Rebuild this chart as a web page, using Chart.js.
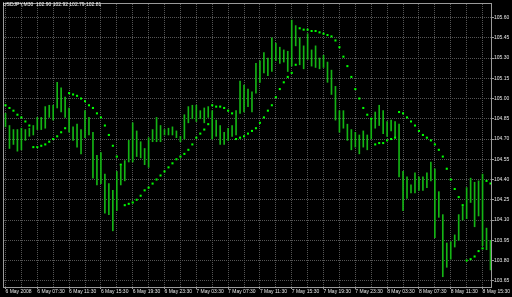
<!DOCTYPE html>
<html><head><meta charset="utf-8">
<script src="https://cdn.jsdelivr.net/npm/chart.js@4/dist/chart.umd.min.js"></script>
<style>html,body{margin:0;padding:0;background:#000;overflow:hidden}canvas{display:block}</style>
</head><body>
<canvas id="c" width="512" height="297"></canvas>
<script>
const titleText = 'USDJPY,M30  102.90 102.92 102.79 102.81';
const xLabels = ['6 May 2008','6 May 07:30','6 May 11:30','6 May 15:30','6 May 19:30','6 May 23:30',
  '7 May 03:30','7 May 07:30','7 May 11:30','7 May 15:30','7 May 19:30','7 May 23:30',
  '8 May 03:30','8 May 07:30','8 May 11:30','8 May 15:30'];
const yTicks = [103.65,103.80,103.95,104.10,104.25,104.40,104.55,104.70,104.85,105.00,105.15,105.30,105.45,105.60];

const highs = [104.89,104.80,104.77,104.77,104.78,104.77,104.78,104.80,104.86,104.86,
104.94,104.95,104.95,105.12,105.08,105.01,104.93,104.79,104.81,104.77,
104.91,104.86,104.75,104.58,104.60,104.44,104.37,104.32,104.46,104.50,
104.54,104.69,104.82,104.76,104.68,104.63,104.71,104.77,104.86,104.80,
104.77,104.78,104.79,104.76,104.72,104.88,104.94,104.95,104.95,104.91,
104.93,104.94,104.91,104.84,104.80,104.75,104.78,104.80,104.91,105.13,
105.10,105.07,105.05,105.26,105.28,105.34,105.30,105.45,105.41,105.38,
105.36,105.35,105.58,105.54,105.45,105.39,105.48,105.36,105.39,105.30,
105.32,105.27,105.21,105.09,104.91,104.91,104.81,104.77,104.75,104.73,
104.76,104.73,104.84,104.90,104.95,104.91,104.83,104.84,104.83,104.81,
104.46,104.42,104.36,104.45,104.42,104.42,104.45,104.53,104.48,104.31,
104.14,103.93,103.94,103.99,104.14,104.20,104.34,104.41,104.38,104.39,
104.44,104.04,103.95];

const lows = [104.79,104.63,104.66,104.61,104.62,104.69,104.72,104.73,104.77,104.77,
104.78,104.86,104.84,104.93,104.90,104.86,104.75,104.69,104.64,104.59,
104.71,104.73,104.41,104.36,104.37,104.15,104.14,104.02,104.17,104.36,
104.39,104.53,104.53,104.57,104.56,104.51,104.49,104.68,104.68,104.68,
104.73,104.73,104.73,104.71,104.68,104.70,104.82,104.85,104.83,104.85,
104.82,104.86,104.70,104.72,104.66,104.66,104.69,104.72,104.73,104.89,
104.90,104.94,104.90,105.04,105.12,105.19,105.17,105.20,105.28,105.26,
105.27,105.20,105.24,105.39,105.25,105.22,105.29,105.24,105.23,105.22,
105.23,105.12,105.03,104.84,104.75,104.78,104.69,104.62,104.64,104.59,
104.64,104.62,104.70,104.78,104.80,104.74,104.72,104.76,104.71,104.42,
104.17,104.26,104.30,104.30,104.32,104.32,104.34,104.39,103.97,104.12,
103.68,103.75,103.81,103.90,103.95,104.10,104.11,104.23,104.05,104.13,
103.91,103.88,103.73];

const sar = [104.95,104.93,104.91,104.88,104.86,104.83,104.80,104.64,104.64,104.65,
104.66,104.68,104.70,104.72,104.75,104.78,105.04,105.03,105.02,105.00,
104.98,104.95,104.93,104.89,104.86,104.80,104.73,104.65,104.57,104.51,
104.21,104.22,104.23,104.25,104.28,104.32,104.34,104.37,104.40,104.43,
104.46,104.49,104.52,104.55,104.57,104.59,104.62,104.66,104.71,104.74,
104.77,104.81,104.95,104.94,104.94,104.93,104.91,104.89,104.70,104.71,
104.72,104.74,104.76,104.78,104.82,104.86,104.91,104.95,105.01,105.07,
105.12,105.16,105.19,105.25,105.52,105.51,105.51,105.50,105.50,105.49,
105.48,105.47,105.46,105.43,105.38,105.31,105.24,105.16,105.07,105.00,
104.93,104.88,104.85,104.66,104.67,104.67,104.69,104.70,104.71,104.90,
104.89,104.86,104.83,104.80,104.76,104.73,104.71,104.69,104.66,104.62,
104.57,104.48,104.40,104.33,104.27,104.21,103.80,103.81,103.83,103.87,
103.89,104.39,104.37];

const barData = highs.map((h, i) => ({x: i, y: [lows[i], h]}));
const sarData = sar.map((v, i) => ({x: i, y: v}));

const FONT = {family: 'Liberation Sans', size: 5};
const TXT = '#e6e6e6';
const GRID = '#555555';

const framePlugin = {
  id: 'frame',
  beforeDatasetsDraw(chart) {
    const {ctx, chartArea: a} = chart;
    ctx.save();
    ctx.setLineDash([]);
    ctx.strokeStyle = '#9a9a9a';
    ctx.lineWidth = 1;
    ctx.strokeRect(a.left - 0.5, a.top - 0.5, a.right - a.left + 1, a.bottom - a.top + 1);
    ctx.restore();
  },
  afterDraw(chart) {
    const {ctx} = chart;
    ctx.save();
    ctx.font = '5px "Liberation Sans"';
    ctx.fillStyle = '#ffffff';
    ctx.textBaseline = 'middle';
    ctx.textAlign = 'left';
    ctx.fillText(titleText, 3, 5);
    ctx.restore();
  }
};

new Chart(document.getElementById('c'), {
  type: 'bar',
  data: {
    datasets: [
      {type: 'scatter', data: sarData, backgroundColor: '#00ff00', borderColor: '#00ff00',
       pointStyle: 'rect', pointRadius: 1.45, borderWidth: 0, showLine: false, order: 0},
      {type: 'bar', data: barData, backgroundColor: '#14b414', barThickness: 1,
       borderWidth: 0, order: 1}
    ]
  },
  options: {
    responsive: false, animation: false, devicePixelRatio: 1,
    layout: {padding: {left: 1, top: 1, right: 0, bottom: 0}},
    plugins: {legend: {display: false}, tooltip: {enabled: false}},
    scales: {
      x: {
        type: 'linear', min: -0.375, max: 122.125, position: 'bottom', offset: false,
        afterBuildTicks: s => { const t = []; for (let v = 0; v <= 120; v += 4) t.push({value: v}); s.ticks = t; },
        afterFit: s => { s.height = 10; },
        ticks: {autoSkip: false, maxRotation: 0, minRotation: 0, align: 'start', padding: 0,
          color: TXT, font: FONT,
          callback: v => (v % 8 === 0 ? xLabels[v / 8] : '')},
        grid: {color: GRID, lineWidth: 1, offset: false, drawTicks: true, tickLength: 2,
          tickColor: c => (c.tick && c.tick.value % 8 === 0) ? '#9a9a9a' : 'rgba(0,0,0,0)'},
        border: {display: false, dash: [1, 1]}
      },
      y: {
        type: 'linear', position: 'right', min: 103.604, max: 105.700,
        afterBuildTicks: s => { s.ticks = yTicks.map(v => ({value: v})); },
        afterFit: s => { s.width = 21; },
        ticks: {padding: 0, color: TXT, font: FONT, callback: v => Number(v).toFixed(2)},
        grid: {color: GRID, lineWidth: 1, drawTicks: true, tickLength: 3, tickColor: '#9a9a9a'},
        border: {display: false, dash: [1, 1]}
      }
    }
  },
  plugins: [framePlugin]
});
</script>
</body></html>
